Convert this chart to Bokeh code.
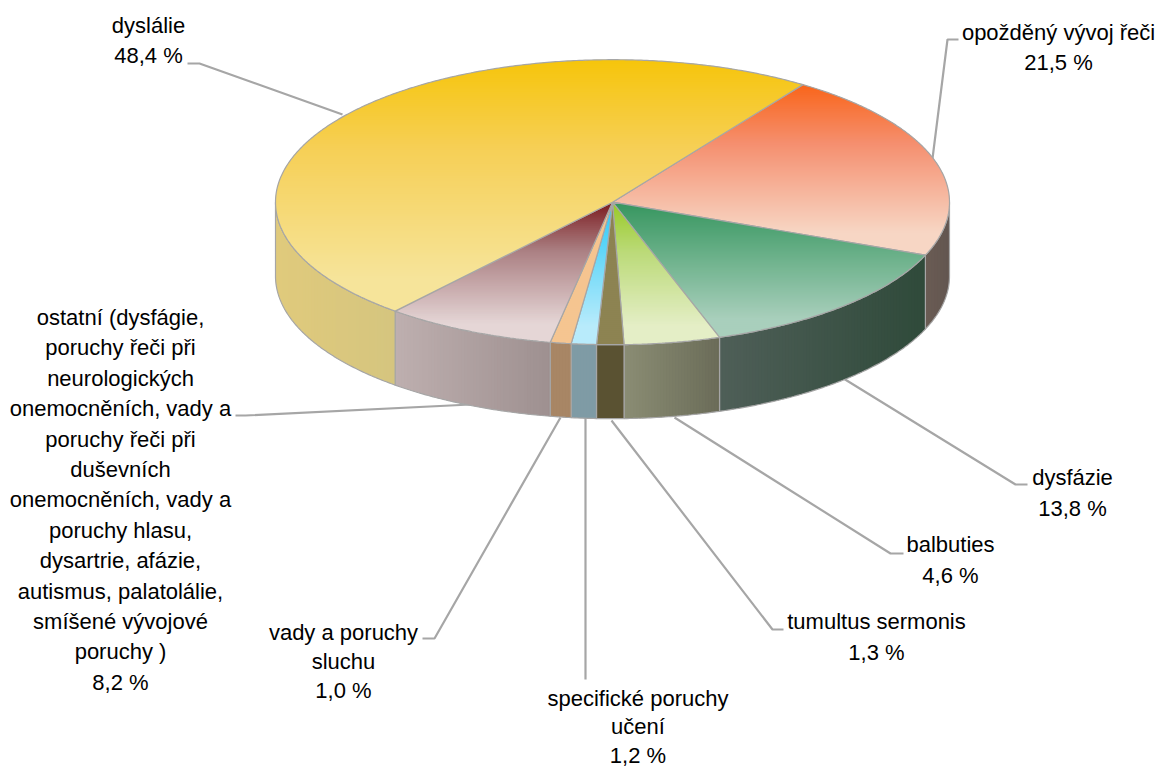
import math
from bokeh.plotting import figure
from bokeh.models import Range1d
from bokeh.core.properties import value
from bokeh.embed import file_html
from bokeh.resources import INLINE

# ---- data (clockwise from the dyslálie / opožděný boundary)
categories = [
    ["opožděný vývoj řeči"],
    ["dysfázie"],
    ["balbuties"],
    ["tumultus sermonis"],
    ["specifické poruchy", "učení"],
    ["vady a poruchy", "sluchu"],
    ["ostatní (dysfágie,", "poruchy řeči při", "neurologických",
     "onemocněních, vady a", "poruchy řeči při", "duševních",
     "onemocněních, vady a", "poruchy hlasu,", "dysartrie, afázie,",
     "autismus, palatolálie,", "smíšené vývojové", "poruchy )"],
    ["dyslálie"],
]
values = [21.5, 13.8, 4.6, 1.3, 1.2, 1.0, 8.2, 48.4]

# ---- style: top gradient (top, 40 %, bottom), side gradient (left→right)
top_from = ["#F9651A", "#36965F", "#98C926", "#8D8352", "#29C8F7", "#F5C48E", "#7B1C20", "#F6C50B"]
top_mid  = ["#F58F6F", "#64AD84", "#BBDA78", "#8D8352", "#63D6F8", "#F5C48F", "#AB8083", "#F6CF55"]
top_to   = ["#F7D6C4", "#A9CFBC", "#E4EEC6", "#8D8352", "#B8EBFB", "#F5C591", "#E5D6D6", "#F6E49A"]
side_from = ["#6A5C54", "#4F5F58", "#8A8D74", "#5A5232", "#7F9BA5", "#A88665", "#BEAFAF", "#E0CA7C"]
side_to   = ["#625650", "#2F4A3A", "#6B6C58", "#5A5232", "#7F9BA5", "#A88665", "#9E9090", "#D5C57F"]

# ---- layout (page pixels)
W, H = 1158, 769
CX, CY, RX, RY, DEPTH = 612.0, 201.7, 337.0, 142.5, 74.0
START = 55.6
GRAD_END = 0.87
EDGE = "#A6A6A6"
LEAD = "#A6A6A6"
label_x = [1058, 1072, 950, 876, 637.5, 343, 120, 148]
label_y = [32, 477, 544, 621, 697.5, 632, 317, 25]
label_gap = [30, 31, 31, 31, 28.8, 29, 30.4, 30]
leaders = [
    [(958, 39), (947, 39), (932, 158)],
    [(1027, 484), (1015, 484), (843, 378)],
    [(903, 553), (890, 553), (674, 417)],
    [(783, 629), (772, 629), (611, 420)],
    [(585, 679), (585, 417)],
    [(422, 638), (434, 638), (560, 417)],
    [(235, 415), (245, 415), (470, 404)],
    [(187, 63), (199, 63), (342, 114)],
]


def hex2rgb(c):
    return tuple(int(c[i:i + 2], 16) for i in (1, 3, 5))


def mix(a, b, f):
    f = max(0.0, min(1.0, f))
    ra, rb = hex2rgb(a), hex2rgb(b)
    return "#%02x%02x%02x" % tuple(round(x + (y - x) * f) for x, y in zip(ra, rb))


def mix3(a, m, b, f):
    f = f / GRAD_END
    return mix(a, m, f / 0.4) if f < 0.4 else mix(m, b, (f - 0.4) / 0.6)


def rim(deg):
    t = math.radians(deg)
    return CX + RX * math.cos(t), CY - RY * math.sin(t)


def clip(poly, lo, hi, axis=1):
    def cut(pts, keep, val):
        out = []
        for i, a in enumerate(pts):
            b = pts[(i + 1) % len(pts)]
            ka, kb = keep(a), keep(b)
            if ka:
                out.append(a)
            if ka != kb:
                f = (val - a[axis]) / (b[axis] - a[axis])
                out.append((a[0] + (b[0] - a[0]) * f, a[1] + (b[1] - a[1]) * f))
        return out

    pts = cut(poly, lambda q: q[axis] >= lo, lo)
    if pts:
        pts = cut(pts, lambda q: q[axis] <= hi, hi)
    return pts


p = figure(width=W, height=H, output_backend="svg", toolbar_location=None,
           x_range=Range1d(0, W), y_range=Range1d(H, 0),
           min_border=0, outline_line_color=None)
p.axis.visible = False
p.grid.visible = False
p.background_fill_color = "white"

# leaders under the pie
for seg in leaders:
    p.line([q[0] for q in seg], [q[1] for q in seg], line_color=LEAD, line_width=2.2)

# slice angles
angles = []
a = START
for v in values:
    b = a - v * 3.6
    angles.append((a, b))
    a = b


def bands(poly, axis, step, overlap, colour):
    lo = min(q[axis] for q in poly)
    hi = max(q[axis] for q in poly)
    xs, ys, cs = [], [], []
    u = lo
    while u < hi:
        piece = clip(poly, u, u + step + overlap, axis)
        if len(piece) >= 3:
            xs.append([q[0] for q in piece])
            ys.append([q[1] for q in piece])
            cs.append(colour((u + step / 2 - lo) / max(hi - lo, 1e-6)))
        u += step
    p.patches(xs, ys, fill_color=cs, line_color=None)
    p.line([q[0] for q in poly] + [poly[0][0]], [q[1] for q in poly] + [poly[0][1]],
           line_color=EDGE, line_width=1.2)


# side walls (visible front half only, -180..0 degrees)
for (a0, b0), c0, c1 in zip(angles, side_from, side_to):
    hi = min(a0, 0.0)
    lo = max(b0, -180.0)
    if hi <= lo:
        continue
    m = max(8, int((hi - lo) * 2))
    front = [rim(lo + (hi - lo) * i / m) for i in range(m + 1)]
    wall = front + [(x, y + DEPTH) for x, y in reversed(front)]
    bands(wall, 0, 3.0, 2.0, lambda f, c0=c0, c1=c1: mix(c0, c1, f))

# top faces with a vertical gradient
for (a0, b0), c0, cm, c1 in zip(angles, top_from, top_mid, top_to):
    m = max(8, int(abs(a0 - b0) * 2))
    poly = [(CX, CY)] + [rim(a0 + (b0 - a0) * i / m) for i in range(m + 1)]
    bands(poly, 1, 2.0, 2.0, lambda f, c0=c0, cm=cm, c1=c1: mix3(c0, cm, c1, f))

# labels
tx, ty, tt = [], [], []
for lines, v, lx, ly, gap in zip(categories, values, label_x, label_y, label_gap):
    rows = lines + [f"{v:.1f} %".replace(".", ",")]
    for i, row in enumerate(rows):
        tx.append(lx)
        ty.append(ly + i * gap)
        tt.append(row)
p.text(tx, ty, text=tt, text_font=value("Liberation Sans"), text_font_size="22px",
       text_color="#000000", text_align="center", text_baseline="middle")

open("out.html", "w").write(file_html(p, INLINE))
